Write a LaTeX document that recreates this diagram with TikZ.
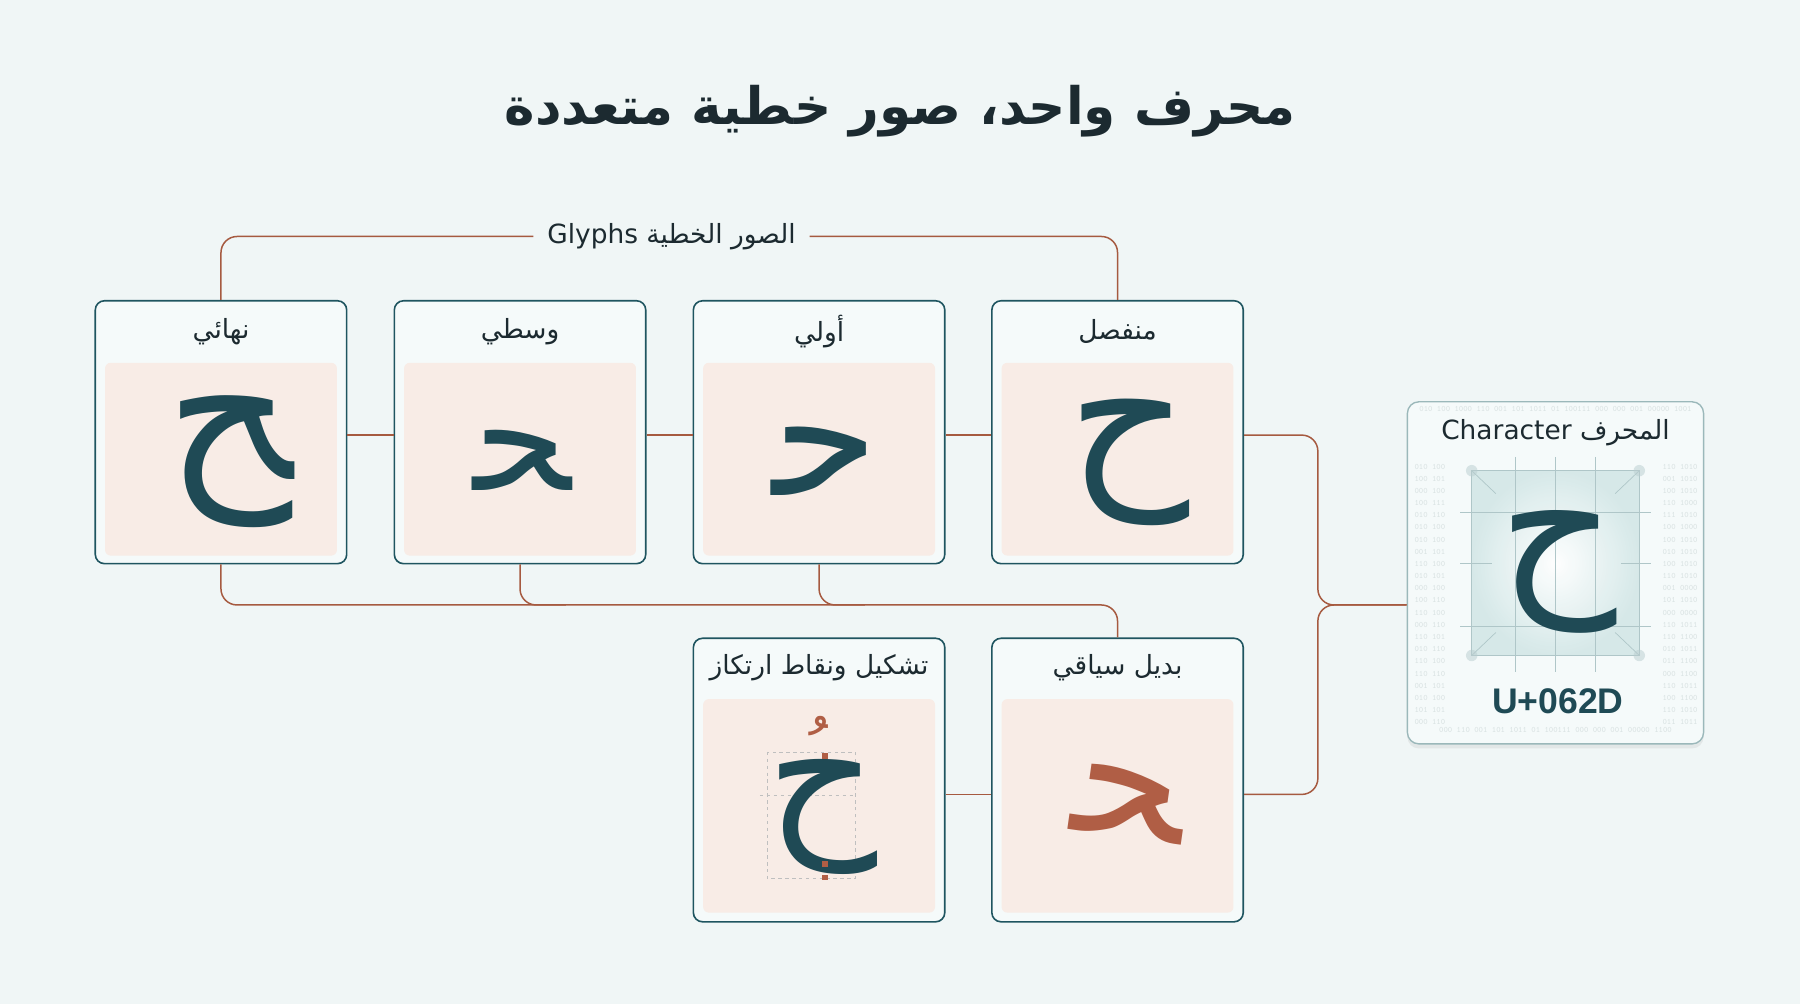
\documentclass[tikz,border=0pt]{standalone}
\usepackage{fontspec}
\usepackage{xcolor}
\usepackage{tikz}
\usetikzlibrary{positioning, calc, shadows}
\TeXXeTstate=1
\newfontfamily\arabicfont[Script=Arabic]{DejaVu Sans}
\newfontfamily\codefont{Liberation Sans}
\definecolor{bgcol}{HTML}{F0F6F6}
\definecolor{cardfill}{HTML}{F5FAFA}
\definecolor{cardline}{HTML}{1F5560}
\definecolor{panecol}{HTML}{F8ECE6}
\definecolor{inkcol}{HTML}{1F4A55}
\definecolor{linkcol}{HTML}{A65A40}
\definecolor{rustcol}{HTML}{B05E45}
\definecolor{textcol}{HTML}{1C2A30}
\definecolor{chrline}{HTML}{9BB8BA}
\definecolor{guidecol}{HTML}{D3E7E7}
\definecolor{bitcol}{HTML}{D9E2E2}

\begin{document}
\begin{tikzpicture}
  [
    x=1pt, y=-1pt,
    Card/.style={draw=cardline, fill=cardfill, line width=1.4pt, rounded corners=8pt,
      minimum width=219pt, minimum height=229pt, inner sep=0pt},
    TallCard/.style={Card, minimum height=247pt},
    Pane/.style={fill=panecol, rounded corners=5pt, minimum width=202pt, minimum height=168pt, inner sep=0pt},
    TallPane/.style={Pane, minimum height=186pt},
    Head/.style={font=\arabicfont\fontsize{23}{27}\selectfont, text=textcol, inner sep=0pt},
    Glyph/.style={font=\arabicfont\fontsize{#1}{#1}\selectfont, text=inkcol, inner sep=0pt},
    Glyph/.default=165,
    Bits/.style={font=\ttfamily\fontsize{7.2}{10.6}\selectfont, text=bitcol, align=left, inner sep=0pt},
    Link/.style={draw=linkcol, line width=1.3pt, rounded corners=14pt},
    Guide/.style={draw=chrline!80, line width=0.6pt},
    Dash/.style={draw=black!25, dashed, line width=0.5pt}
  ]
  % Background
  \fill[bgcol] (0,0) rectangle (1568,875);
  \node[font=\arabicfont\bfseries\fontsize{45}{50}\selectfont, text=textcol] (title) at (784, 97)
    {\beginR محرف واحد، صور خطية متعددة\endR};

  % Cards
  \node[Card] (fin) at (192.5, 376.5) {};
  \node[Card] (med) at (453, 376.5) {};
  \node[Card] (ini) at (713.5, 376.5) {};
  \node[Card] (iso) at (973.5, 376.5) {};
  \node[TallCard] (dia) at (713.5, 679.5) {};
  \node[TallCard] (alt) at (973.5, 679.5) {};
  \node[Pane] (finP) at (192.5, 400) {};
  \node[Pane] (medP) at (453, 400) {};
  \node[Pane] (iniP) at (713.5, 400) {};
  \node[Pane] (isoP) at (973.5, 400) {};
  \node[TallPane] (diaP) at (713.5, 702) {};
  \node[TallPane] (altP) at (973.5, 702) {};

  % Headers
  \node[Head] (finH) at (192.5, 289) {\beginR نهائي\endR};
  \node[Head] (medH) at (453, 289) {\beginR وسطي\endR};
  \node[Head] (iniH) at (713.5, 289) {\beginR أولي\endR};
  \node[Head] (isoH) at (973.5, 289) {\beginR منفصل\endR};
  \node[Head] (diaH) at (713.5, 582) {\beginR تشكيل ونقاط ارتكاز\endR};
  \node[Head] (altH) at (973.5, 582) {\beginR بديل سياقي\endR};

  % Glyphs
  \node[Glyph=172] (finG) at (200, 402) {ﺢ};
  \node[Glyph=132] (medG) at (455, 401) {ﺤ};
  \node[Glyph=150] (iniG) at (719, 402) {ﺣ};
  \node[Glyph] (isoG) at (983, 403) {ﺡ};
  \draw[Dash] (668,655) rectangle (745,765);
  \draw[Dash] (662,693) -- (745,693);
  \node[Glyph=150] (diaG) at (716, 712) {ﺡ};
  \node[text=rustcol, font=\arabicfont\fontsize{60}{60}\selectfont, inner sep=0pt] (damma) at (713, 628)
    {\raisebox{-0.7em}[0.2em][0pt]{ﹸ}};
  \fill[rustcol] (716,656) rectangle (721,661);
  \fill[rustcol] (716,750) rectangle (721,755);
  \fill[rustcol] (716,762) rectangle (721,767);
  \node[Glyph=150, text=rustcol, rotate=-8] (altG) at (984, 700) {ﺤ};

  % Character card
  \node[draw=chrline, fill=cardfill, line width=1.2pt, rounded corners=10pt,
    minimum width=258pt, minimum height=298pt, inner sep=0pt,
    drop shadow={opacity=0.12, shadow xshift=0pt, shadow yshift=-4pt}] (chr) at (1355, 499) {};
  \node[Bits, anchor=north west] (bitsL) at (1232, 404) {%
    010 100\\ 100 101\\ 000 100\\ 100 111\\ 010 110\\ 010 100\\ 010 100\\ 001 101\\
    110 100\\ 010 101\\ 000 100\\ 100 110\\ 110 100\\ 000 110\\ 110 101\\ 010 110\\
    110 100\\ 110 110\\ 001 101\\ 010 100\\ 101 101\\ 000 110};
  \node[Bits, anchor=north east, align=right] (bitsR) at (1479, 404) {%
    110 1010\\ 001 1010\\ 100 1010\\ 110 1000\\ 111 1010\\ 100 1000\\ 100 1010\\ 010 1010\\
    100 1010\\ 110 1010\\ 001 0000\\ 101 1010\\ 000 0000\\ 110 1011\\ 110 1100\\ 010 1011\\
    011 1100\\ 000 1100\\ 110 1011\\ 100 1100\\ 110 1010\\ 011 1011};
  \node[Bits, anchor=north] (bitsB) at (1355, 633) {000 110 001 101 1011 01 100111 000 000 001 00000 1100};
  \node[Bits, anchor=north] (bitsT) at (1355, 354) {010 100 1000 110 001 101 1011 01 100111 000 000 001 00000 1001};
  \shade[inner color=white, outer color=guidecol, opacity=0.9] (1282,410) rectangle (1428,571);
  \draw[Guide] (1282,410) rectangle (1428,571);
  \draw[Guide] (1320,398) -- (1320,585);
  \draw[Guide] (1355,398) -- (1355,585);
  \draw[Guide] (1390,398) -- (1390,585);
  \draw[Guide] (1272,446) -- (1438,446);
  \draw[Guide] (1272,491) -- (1300,491);
  \draw[Guide] (1412,491) -- (1438,491);
  \draw[Guide] (1272,546) -- (1438,546);
  \draw[Guide] (1282,410) -- (1303,430);
  \draw[Guide] (1428,410) -- (1407,430);
  \draw[Guide] (1282,571) -- (1303,551);
  \draw[Guide] (1428,571) -- (1407,551);
  \fill[chrline!70, opacity=0.5] (1282,410) circle (5pt);
  \fill[chrline!70, opacity=0.5] (1428,410) circle (5pt);
  \fill[chrline!70, opacity=0.5] (1282,571) circle (5pt);
  \fill[chrline!70, opacity=0.5] (1428,571) circle (5pt);
  \node[Head] (chrH) at (1355, 377) {\beginR المحرف \beginL Character\endL\endR};
  \node[Glyph=160] (chrG) at (1357, 498) {ﺡ};
  \node[font=\codefont\bfseries\fontsize{31}{34}\selectfont, text=inkcol, inner sep=0pt] (code) at (1357, 611) {U+062D};

  % Lines
  \node[Head, inner xsep=12pt] (glyphs) at (585, 206) {\beginR الصور الخطية \beginL Glyphs\endL\endR};
  \path[Link] (fin.north) |- (glyphs.west);
  \path[Link] (glyphs.east) -| (iso.north);
  \path[Link] ([yshift=-2.5pt]fin.east) -- ([yshift=-2.5pt]med.west);
  \path[Link] ([yshift=-2.5pt]med.east) -- ([yshift=-2.5pt]ini.west);
  \path[Link] ([yshift=-2.5pt]ini.east) -- ([yshift=-2.5pt]iso.west);
  \coordinate (bus) at (973.5, 527);
  \coordinate (hub) at (1148, 527);
  \path[Link] (fin.south) |- (bus) -- (alt.north);
  \path[Link] (med.south) |- ($(med.south |- bus)+(40,0)$);
  \path[Link] (ini.south) |- ($(ini.south |- bus)+(40,0)$);
  \path[Link] ([yshift=-2.5pt]iso.east) -| (hub) -- (chr.west |- hub);
  \path[Link] ([yshift=-12.5pt]alt.east) -| (hub) -- (chr.west |- hub);
  \path[Link] ([yshift=-12.5pt]dia.east) -- ([yshift=-12.5pt]alt.west);
\end{tikzpicture}
\end{document}
